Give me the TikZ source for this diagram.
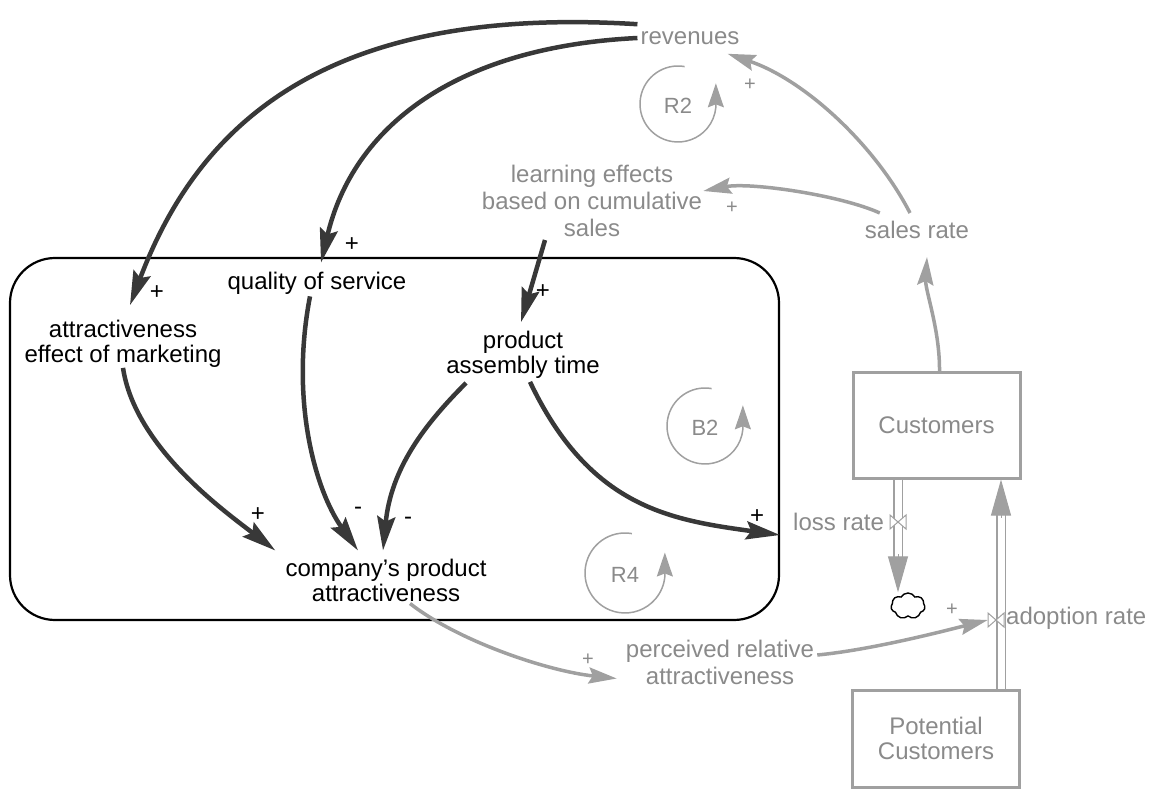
\documentclass[tikz,border=0pt]{standalone}
\usepackage{fontspec}
\setmainfont{Liberation Sans}
\usetikzlibrary{arrows.meta,calc,shapes.symbols}
\definecolor{ink}{HTML}{383838}
\definecolor{soft}{HTML}{A0A0A0}
\definecolor{softtext}{HTML}{8A8A8A}
\begin{document}
\begin{tikzpicture}[x=1pt,y=-1pt,
  blk/.style={font=\fontsize{24}{25}\selectfont, text=black, inner sep=0pt, align=center},
  gry/.style={font=\fontsize{24}{27}\selectfont, text=softtext, inner sep=0pt, align=center},
  link/.style={draw=ink, line width=4.5pt, -{Stealth[length=34pt,width=18pt,inset=5pt]}},
  glink/.style={draw=soft, line width=3.5pt, -{Stealth[length=28pt,width=16pt,inset=4pt]}},
  pol/.style={font=\fontsize{24}{24}\selectfont, inner sep=0pt},
  gpol/.style={font=\fontsize{20}{20}\selectfont, text=softtext, inner sep=0pt},
  stock/.style={draw=soft, line width=3pt, minimum width=167pt, inner sep=0pt,
    font=\fontsize{24}{25}\selectfont, text=softtext, align=center},
  loopc/.style={draw=soft, line width=1.5pt, -{Stealth[length=24pt,width=16pt,inset=3pt]}},
  looplabel/.style={font=\fontsize{22}{22}\selectfont, text=softtext, inner sep=0pt},
  pipe/.style={draw=soft, double=white, double distance=7pt, line width=1.2pt},
  pipetip/.style={draw=soft, line width=1pt, -{Triangle[length=36pt,width=20pt]}},
  valve/.style={draw=soft, line width=1pt, fill=white},
]
\useasboundingbox (0,0) rectangle (1165,799);

% sector boundary
\draw[line width=2.2pt, rounded corners=45pt] (10,258) rectangle (779,620);

% nodes
\node[gry] (rev) at (690,38) {revenues};
\node[gry] (learn) at (592,201) {learning effects\\based on cumulative\\sales};
\node[gry] (sales) at (917,230) {sales rate};
\node[stock, minimum height=105pt] (cust) at (936.5,425.5) {Customers};
\node[stock, minimum height=97pt] (pot) at (936,738.5) {Potential\\Customers};
\node[gry, anchor=west] (loss) at (793,522) {loss rate};
\node[gry, anchor=west] (adopt) at (1006,618) {adoption rate};
\node[gry] (perc) at (720,662) {perceived relative\\attractiveness};
\node[blk] (qual) at (317,283) {quality of service};
\node[blk] (attr) at (123,344) {attractiveness\\effect of marketing};
\node[blk] (prod) at (523,355) {product\\assembly time};
\node[blk] (comp) at (386,580) {company's product\\attractiveness};

\node[inner sep=0pt, minimum size=16pt] (lv) at (898,522) {};
\node[inner sep=0pt, minimum size=16pt] (avn) at (996,620) {};
\coordinate (inpipe) at (1001,620);
\node[cloud, draw=black, line width=1.4pt, cloud puffs=7, cloud puff arc=120,
  minimum width=34pt, minimum height=26pt, inner sep=0pt] (sink) at (908,606) {};

% pipes
\draw[pipe] (cust.south -| lv) -- ($(sink.north -| lv)+(0,-34)$);
\draw[pipetip] ($(sink.north -| lv)+(0,-38)$) -- (sink.north -| lv);
\draw[pipe] (pot.north -| inpipe) -- ($(cust.south -| inpipe)+(0,34)$);
\draw[pipetip] ($(cust.south -| inpipe)+(0,38)$) -- (cust.south -| inpipe);
\draw[valve] ($(lv)+(-8,-7)$) -- ($(lv)+(8,7)$) -- ($(lv)+(8,-7)$) -- ($(lv)+(-8,7)$) -- cycle;
\draw[valve] ($(avn)+(-8,-7)$) -- ($(avn)+(8,7)$) -- ($(avn)+(8,-7)$) -- ($(avn)+(-8,7)$) -- cycle;

% black links
\draw[link] ($(rev.north west)+(-3,-7)$) .. controls (330,5) and (200,120) .. ($(attr.north)+(7,-15)$);
\draw[link] ($(rev.west)+(-3,0)$) .. controls (455,47) and (353,127) .. ($(qual.north)+(4,-9)$);
\draw[link] ($(learn.south)+(-47,3)$) -- ($(prod.north)+(-2,-9)$);
\draw[link] (attr.south) .. controls (135,448) and (227,513) .. ($(comp.north west)+(-10,-8)$);
\draw[link] ($(qual.south)+(-7,2)$) .. controls (290,400) and (315,490) .. ($(comp.north)+(-28,-8)$);
\draw[link] ($(prod.south west)+(20,4)$) .. controls (425,424) and (391,468) .. ($(comp.north)+(-3,-8)$);
\draw[link] ($(prod.south)+(7,3)$) .. controls (590,508) and (671,520) .. ($(loss.south west)+(-13,4)$);

% grey links
\draw[glink] ($(comp.south)+(24,2)$) .. controls (458,641) and (547,671) .. ($(perc.south west)+(-9,-6)$);
\draw[glink] ($(perc.east)+(3,-7)$) .. controls (870,650) and (940,632) .. (avn.west);
\draw[glink] ($(sales.north)+(-7,-8)$) .. controls (875,145) and (805,80) .. ($(rev.south east)+(-12,9)$);
\draw[glink] ($(sales.north west)+(15,-8)$) .. controls (840,195) and (750,182) .. ($(learn.east)+(1,-10)$);
\draw[glink] ($(cust.north)+(3,0)$) .. controls (940,330) and (925,290) .. ($(sales.south)+(10,18)$);

% loops
\draw[loopc] (678,104) ++(280:38) arc[start angle=280, end angle=5, radius=38] -- ++(0,-24);
\node[looplabel] (r2) at (678,106) {R2};
\draw[loopc] (705,426) ++(280:38) arc[start angle=280, end angle=5, radius=38] -- ++(0,-24);
\node[looplabel] (b2) at (705,428) {B2};
\draw[loopc] (625,573) ++(280:40) arc[start angle=280, end angle=5, radius=40] -- ++(0,-24);
\node[looplabel] (r4) at (625,575) {R4};

% polarities
\node[pol] (p1) at (157,293) {+};
\node[pol] (p2) at (352,245) {+};
\node[pol] (p3) at (543,292) {+};
\node[pol] (p4) at (258,515) {+};
\node[pol] (p5) at (358,511) {-};
\node[pol] (p6) at (408,521) {-};
\node[pol] (p7) at (757,517) {+};
\node[gpol] (g1) at (750,85) {+};
\node[gpol] (g2) at (732,208) {+};
\node[gpol] (g3) at (588,660) {+};
\node[gpol] (g4) at (952,610) {+};
\end{tikzpicture}
\end{document}
